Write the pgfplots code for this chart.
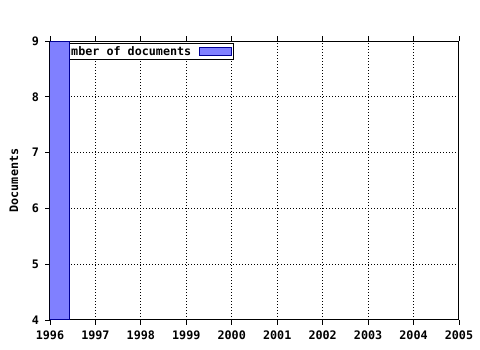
\documentclass[border=0pt]{standalone}
\usepackage{fontspec}
\setmonofont{DejaVu Sans Mono}
\usepackage{pgfplots}
\pgfplotsset{compat=1.18}
\definecolor{barfill}{RGB}{128,128,255}
\definecolor{baredge}{RGB}{0,0,150}
\pgfplotsset{
  layers/legendbelow/.define layer set={axis background,axis grid,axis ticks,axis lines,axis tick labels,axis descriptions,main,axis foreground}{/pgfplots/layers/standard},
}
\begin{document}
\begin{tikzpicture}
\begin{axis}[
  set layers=legendbelow,
  at={(37.5pt,22.5pt)}, anchor=south west,
  scale only axis,
  width=306.75pt, height=209.25pt,
  xmin=1996, xmax=2005, ymin=4, ymax=9,
  xtick={1996,...,2005}, ytick={4,...,9},
  minor x tick num=3,
  xtick pos=both, ytick pos=left,
  tick align=outside,
  major tick length=3.75pt, minor tick length=2.25pt,
  every tick/.style={black, line width=0.6pt},
  axis line style={line width=0.75pt},
  grid=major,
  major grid style={black, line width=0.75pt, dash pattern=on 0.75pt off 1.5pt},
  /pgf/number format/1000 sep={},
  /pgf/number format/assume math mode=true,
  tick label style={font=\fontsize{8.8pt}{9pt}\ttfamily\bfseries},
  xticklabel style={yshift=-1pt},
  yticklabel style={xshift=-1pt},
  ylabel={Documents},
  ylabel style={font=\fontsize{8.8pt}{9pt}\ttfamily\bfseries, at={(axis description cs:-0.088,0.5)}, anchor=center},
  legend plot pos=right,
  legend style={at={(axis description cs:0.008,0.993)}, anchor=north west,
    draw=black, line width=0.75pt, fill=white, inner xsep=1pt, inner ysep=0.5pt,
    font=\fontsize{8.8pt}{9pt}\ttfamily\bfseries,
    nodes={inner sep=1.5pt}},
  legend image code/.code={\path[draw=none,fill=none] (0pt,0pt) -- (29.5pt,0pt);
    \draw[fill=barfill, draw=baredge, line width=0.75pt] (4.5pt,-2.8pt) rectangle (28.5pt,2.8pt);},
]
\addplot[ybar, bar width=0.44, bar shift=0.22, fill=barfill, draw=baredge, line width=0.75pt]
  coordinates {(1996,9)};
\addlegendentry{Number of documents}
\end{axis}
\path (0pt,0pt) rectangle (360pt,262.5pt);
\end{tikzpicture}
\end{document}
